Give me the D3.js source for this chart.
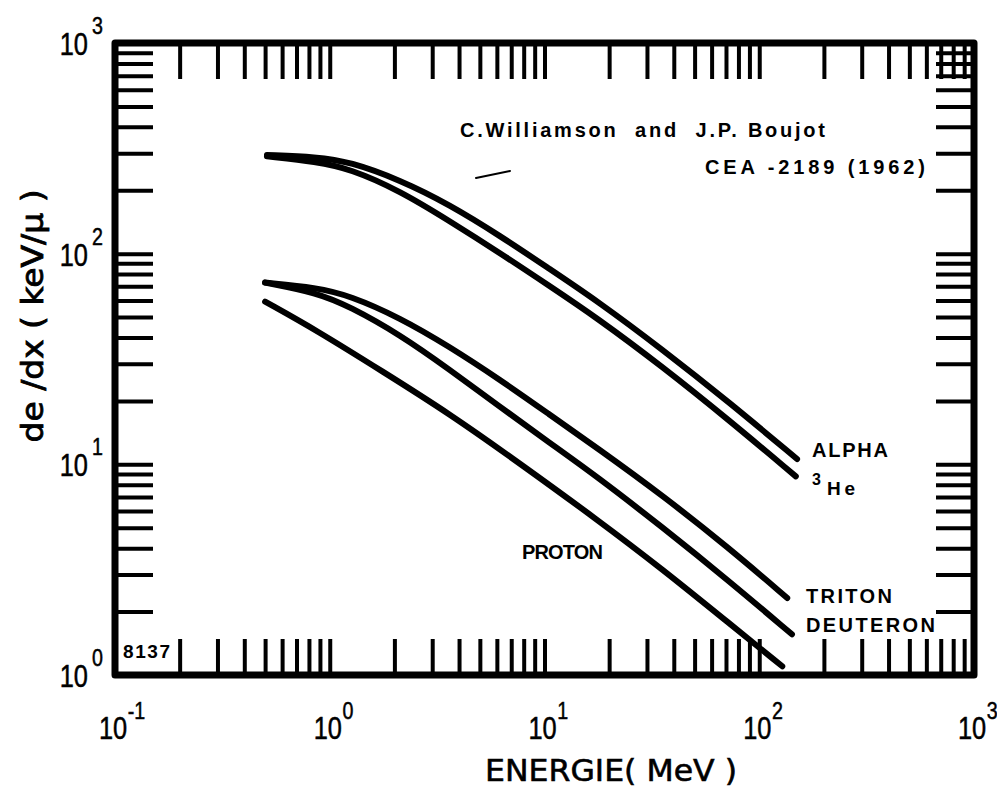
<!DOCTYPE html>
<html>
<head>
<meta charset="utf-8">
<script src="https://cdn.jsdelivr.net/npm/d3@7"></script>
<style>
  body { margin: 0; background: #fff; }
  text { fill: #000; }
</style>
</head>
<body>
<svg id="chart" width="997" height="792"></svg>
<script>
// energy in MeV, stopping power de/dx in keV/micron
const alphaEnergy = [0.51, 0.87, 1.24, 2.12, 3.61, 6.18, 10.5, 17.5, 35.4, 72.4, 150];
const alphaLoss = [294, 288, 273, 224, 171, 122, 84.9, 59.9, 35.1, 19.7, 10.6];

const he3Energy = [0.51, 0.87, 1.24, 2.12, 3.61, 6.18, 10.5, 17.5, 35.4, 72.4, 148];
const he3Loss = [290, 273, 253, 199, 143, 101, 70.5, 49.7, 29.1, 16.2, 8.77];

const tritonEnergy = [0.5, 0.87, 1.24, 2.12, 3.61, 6.18, 10.5, 17.5, 35.4, 72.4, 135];
const tritonLoss = [72.9, 69.0, 63.2, 49.7, 36.2, 25.3, 17.3, 12.0, 7.13, 4.0, 2.32];

const deuteronEnergy = [0.5, 0.87, 1.24, 2.12, 3.61, 6.18, 10.5, 17.5, 35.4, 72.4, 142];
const deuteronLoss = [72.9, 65.3, 56.1, 41.3, 28.2, 18.8, 12.7, 8.77, 5.03, 2.79, 1.56];

const protonEnergy = [0.5, 0.87, 1.76, 3.61, 7.9, 17.5, 35.4, 72.4, 128];
const protonLoss = [59.2, 43.2, 27.6, 17.4, 9.89, 5.49, 3.18, 1.76, 1.1];

const xDecades = [0.1, 1, 10, 100, 1000];
const xExponents = ["-1", "0", "1", "2", "3"];
const yDecades = [1, 10, 100, 1000];
const yExponents = ["0", "1", "2", "3"];

const svg = d3.select("#chart");
const frameLeft = 115, frameRight = 974, frameTop = 43, frameBottom = 675;

const x = d3.scaleLog().domain([0.1, 1000]).range([frameLeft, frameRight]);
const y = d3.scaleLog().domain([1, 1000]).range([frameBottom, frameTop]);

svg.append("rect").attr("width", 997).attr("height", 792).attr("fill", "#fff");

// inward ticks on all four sides
const xTicks = x.ticks().filter(v => v > 0.1 && v < 1000);
const yTicks = y.ticks().filter(v => v > 1 && v < 1000);

function styleTicks(g) {
  g.select(".domain").remove();
  g.selectAll(".tick line").attr("stroke", "#000").attr("stroke-width", 4);
}

svg.append("g").attr("transform", `translate(0,${frameBottom})`)
  .call(d3.axisBottom(x).tickValues(xTicks).tickSize(-36).tickFormat(""))
  .call(styleTicks);
svg.append("g").attr("transform", `translate(0,${frameTop})`)
  .call(d3.axisTop(x).tickValues(xTicks).tickSize(-36).tickFormat(""))
  .call(styleTicks);
svg.append("g").attr("transform", `translate(${frameLeft},0)`)
  .call(d3.axisLeft(y).tickValues(yTicks).tickSize(-38).tickFormat(""))
  .call(styleTicks);
svg.append("g").attr("transform", `translate(${frameRight},0)`)
  .call(d3.axisRight(y).tickValues(yTicks).tickSize(-38).tickFormat(""))
  .call(styleTicks);

// frame
svg.append("rect")
  .attr("x", frameLeft).attr("y", frameTop)
  .attr("width", frameRight - frameLeft).attr("height", frameBottom - frameTop)
  .attr("fill", "none").attr("stroke", "#000").attr("stroke-width", 7)
  .attr("stroke-linejoin", "round");

// decade labels
const labelFont = "Liberation Sans, Arial, sans-serif";

xDecades.forEach((v, i) => {
  const g = svg.append("g")
    .attr("transform", `translate(${x(v) - 2},739) scale(0.82,1)`)
    .attr("font-family", labelFont)
    .attr("stroke", "#000").attr("stroke-width", 0.5);
  g.append("text").attr("text-anchor", "middle").attr("font-size", 31).text("10");
  g.append("text").attr("x", 18).attr("y", -20).attr("font-size", 24).text(xExponents[i]);
});

yDecades.forEach((v, i) => {
  const g = svg.append("g")
    .attr("transform", `translate(88,${y(v) + 12}) scale(0.82,1)`)
    .attr("font-family", labelFont)
    .attr("stroke", "#000").attr("stroke-width", 0.5);
  g.append("text").attr("text-anchor", "end").attr("font-size", 31).text("10");
  g.append("text").attr("x", 5).attr("y", -21).attr("font-size", 24).text(yExponents[i]);
});

// axis titles
svg.append("text")
  .attr("transform", "translate(43,316) rotate(-90)")
  .attr("text-anchor", "middle")
  .attr("font-family", "DejaVu Sans, sans-serif")
  .attr("font-size", 30)
  .attr("stroke", "#000").attr("stroke-width", 0.8)
  .attr("textLength", 253).attr("lengthAdjust", "spacingAndGlyphs")
  .text("de /dx ( keV/μ )");

svg.append("text")
  .attr("x", 485).attr("y", 781)
  .attr("font-family", "DejaVu Sans, sans-serif")
  .attr("font-size", 31)
  .attr("stroke", "#000").attr("stroke-width", 0.6)
  .attr("textLength", 252).attr("lengthAdjust", "spacingAndGlyphs")
  .text("ENERGIE( MeV )");

// curves
const series = [
  {name: "alpha", e: alphaEnergy, s: alphaLoss},
  {name: "he3", e: he3Energy, s: he3Loss},
  {name: "triton", e: tritonEnergy, s: tritonLoss},
  {name: "deuteron", e: deuteronEnergy, s: deuteronLoss},
  {name: "proton", e: protonEnergy, s: protonLoss}
];

const line = d3.line()
  .x(d => x(d[0]))
  .y(d => y(d[1]))
  .curve(d3.curveBasis);

svg.append("g")
  .selectAll("path")
  .data(series)
  .join("path")
  .attr("d", d => line(d.e.map((e, i) => [e, d.s[i]])))
  .attr("fill", "none")
  .attr("stroke", "#000")
  .attr("stroke-width", 6)
  .attr("stroke-linecap", "round")
  .attr("stroke-linejoin", "round");

// stray pen mark on the scan
svg.append("path")
  .attr("d", "M476,178 L510,171")
  .attr("stroke", "#000").attr("stroke-width", 2).attr("stroke-linecap", "round");

// annotations
const boldFont = "Liberation Sans, Arial, sans-serif";
function note(tx, ty, str, len, size) {
  return svg.append("text")
    .attr("x", tx).attr("y", ty)
    .attr("font-family", boldFont)
    .attr("font-weight", "bold")
    .attr("font-size", size || 20)
    .attr("textLength", len).attr("lengthAdjust", "spacing")
    .text(str);
}

note(460, 137, "C.Williamson  and  J.P. Boujot", 365).attr("xml:space", "preserve");
note(705, 174, "CEA -2189 (1962)", 220);
note(812, 457, "ALPHA", 76);
note(812, 485, "3", 10, 16);
note(827, 495, "He", 28, 19);
note(806, 603, "TRITON", 86);
note(806, 632, "DEUTERON", 129);
note(522, 559, "PROTON", 81);
note(123, 658, "8137", 47, 19);
</script>
</body>
</html>
